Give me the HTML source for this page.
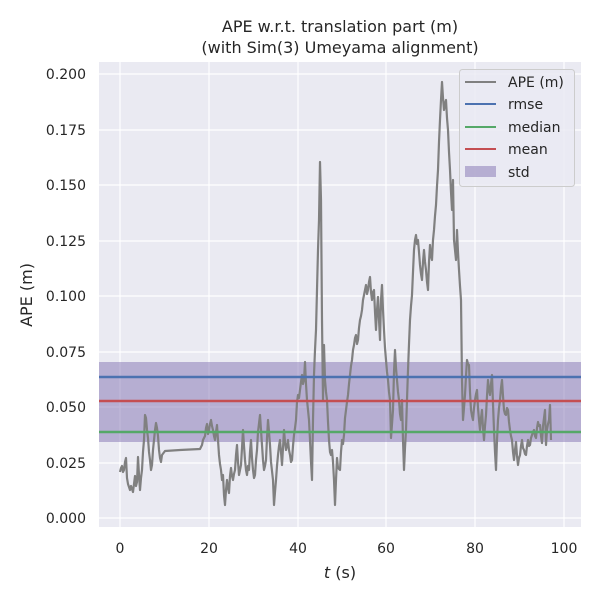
<!DOCTYPE html>
<html><head><meta charset="utf-8"><style>body{margin:0;background:#fff}svg{display:block}text{font-family:"DejaVu Sans","Liberation Sans",sans-serif;fill:#262626}</style></head><body>
<svg width="600" height="600" viewBox="0 0 600 600">
<rect x="99" y="62" width="482" height="465" fill="#eaeaf2"/>
<g stroke="#fff" stroke-width="1.2">
<line x1="120" y1="62" x2="120" y2="527"/><line x1="209" y1="62" x2="209" y2="527"/><line x1="298" y1="62" x2="298" y2="527"/><line x1="386" y1="62" x2="386" y2="527"/><line x1="475" y1="62" x2="475" y2="527"/><line x1="564" y1="62" x2="564" y2="527"/>
<line x1="99" y1="518" x2="581" y2="518"/><line x1="99" y1="463" x2="581" y2="463"/><line x1="99" y1="407" x2="581" y2="407"/><line x1="99" y1="352" x2="581" y2="352"/><line x1="99" y1="296" x2="581" y2="296"/><line x1="99" y1="241" x2="581" y2="241"/><line x1="99" y1="185" x2="581" y2="185"/><line x1="99" y1="130" x2="581" y2="130"/><line x1="99" y1="74" x2="581" y2="74"/>
</g>
<rect x="99" y="362" width="482" height="80" fill="#8172b2" fill-opacity="0.5"/>
<polyline fill="none" stroke="#808080" stroke-width="2.2" stroke-linejoin="round" points="120,472 121,468 122,466 123,472 124,470 125,462 126,458 127,478 128,484 130,490 131,486 133,492 134,484 135,476 136,486 137,482 138,457 139,475 140,490 141,478 142,470 143,452 144,440 145,415 146,418 147,430 148,438 149,452 150,460 151,470 152,465 153,450 154,440 155,430 156,423 157,428 158,436 159,450 160,458 161,462 162,455 165,451 180,450 200,449 202,445 203,440 205,436 206,428 207,424 208,434 209,430 210,424 211,420 212,426 213,430 214,436 215,440 216,432 217,425 218,440 219,455 220,464 221,470 222,480 223,475 224,495 225,505 226,490 227,480 228,488 229,493 230,476 231,468 232,476 233,480 234,474 235,470 236,455 237,445 238,462 239,475 240,470 241,465 242,448 243,430 244,446 245,460 246,470 247,475 248,466 249,470 250,452 251,440 252,458 253,470 254,478 255,475 256,460 257,450 258,432 260,415 261,430 262,445 263,460 264,470 265,466 266,460 267,438 268,420 269,432 270,445 271,462 273,480 274,505 275,492 276,480 277,466 278,455 279,446 280,440 281,452 282,465 283,448 284,430 285,442 286,450 287,446 288,440 289,450 290,455 291,462 292,460 293,446 294,435 295,428 296,420 297,402 298,395 299,398 300,390 301,382 302,375 303,384 304,380 305,362 306,384 307,400 308,410 309,420 310,440 311,462 312,480 313,420 314,375 315,350 316,330 317,290 318,250 319,220 320,162 321,200 322,320 323,400 324,345 325,380 326,392 327,400 328,422 329,440 330,452 331,455 332,450 333,462 334,480 335,505 336,480 337,458 338,468 340,470 341,452 342,440 343,444 344,435 345,418 346,410 347,402 348,395 349,384 350,375 351,366 352,360 353,350 354,345 355,338 356,335 357,344 358,340 359,328 360,320 361,316 362,310 363,300 364,295 365,290 366,285 367,294 368,290 369,282 370,277 371,292 372,300 373,292 374,290 375,312 376,330 377,310 378,297 379,320 380,340 381,300 382,285 383,310 384,330 385,348 386,360 387,372 388,380 389,392 390,400 391,438 392,424 393,410 394,372 395,350 396,368 397,380 398,392 399,400 400,414 401,420 402,400 403,440 404,470 405,448 406,430 407,400 408,370 409,344 410,320 411,306 412,295 413,272 414,250 415,240 416,235 417,244 418,240 419,252 420,265 421,274 422,280 423,262 424,250 425,262 426,270 427,282 428,290 429,262 430,245 431,256 432,260 433,240 434,230 435,216 436,205 437,186 438,170 439,142 440,120 441,100 442,82 443,98 444,110 445,104 446,100 447,118 448,130 449,152 450,170 451,192 452,210 453,180 454,240 455,250 456,260 457,230 458,252 459,270 460,286 461,300 462,380 463,420 464,408 465,395 466,376 467,360 468,364 469,365 470,392 471,410 472,416 473,420 474,408 475,400 476,394 477,390 478,408 479,420 480,430 481,418 482,410 483,428 484,440 485,426 486,415 487,396 488,380 489,390 490,395 491,384 492,375 493,404 494,430 495,452 496,470 497,440 498,420 499,408 500,400 501,388 502,380 503,396 504,410 505,414 506,415 507,408 508,410 509,422 510,430 511,436 512,440 513,452 514,460 515,450 516,442 517,456 518,465 519,458 520,455 521,446 522,440 523,448 524,450 525,454 526,455 527,446 528,440 529,446 530,445 531,438 532,435 533,432 534,430 535,436 536,438 537,428 538,422 539,426 540,425 541,436 542,443 543,426 545,410 546,445 547,430 548,424 549,420 550,405 551,440"/>
<line x1="99" y1="377" x2="581" y2="377" stroke="#4c72b0" stroke-width="2.5"/>
<line x1="99" y1="401" x2="581" y2="401" stroke="#c44e52" stroke-width="2.5"/>
<line x1="99" y1="432" x2="581" y2="432" stroke="#55a868" stroke-width="2.5"/>
<rect x="459.5" y="69.5" width="115" height="117" rx="3" fill="#eaeaf2" fill-opacity="0.8" stroke="#ccc"/>
<line x1="465" y1="82" x2="496" y2="82" stroke="#808080" stroke-width="2"/>
<line x1="465" y1="104" x2="496" y2="104" stroke="#4c72b0" stroke-width="2"/>
<line x1="465" y1="127" x2="496" y2="127" stroke="#55a868" stroke-width="2"/>
<line x1="465" y1="149" x2="496" y2="149" stroke="#c44e52" stroke-width="2"/>
<rect x="465" y="166" width="31" height="11" fill="#8172b2" fill-opacity="0.5"/>
<g font-size="14"><text x="508" y="87">APE (m)</text><text x="508" y="109">rmse</text><text x="508" y="132">median</text><text x="508" y="154">mean</text><text x="508" y="177">std</text></g>
<g font-size="14" text-anchor="end"><text x="86" y="523">0.000</text><text x="86" y="468">0.025</text><text x="86" y="412">0.050</text><text x="86" y="357">0.075</text><text x="86" y="301">0.100</text><text x="86" y="246">0.125</text><text x="86" y="190">0.150</text><text x="86" y="135">0.175</text><text x="86" y="79">0.200</text></g>
<g font-size="14" text-anchor="middle"><text x="120" y="553">0</text><text x="209" y="553">20</text><text x="298" y="553">40</text><text x="386" y="553">60</text><text x="475" y="553">80</text><text x="564" y="553">100</text>
<text x="340" y="578" font-size="16"><tspan font-style="italic">t</tspan> (s)</text>
<text x="340" y="32" font-size="16">APE w.r.t. translation part (m)</text><text x="340" y="53" font-size="16">(with Sim(3) Umeyama alignment)</text></g>
<text transform="translate(32,295) rotate(-90)" font-size="16" text-anchor="middle">APE (m)</text>
</svg></body></html>
